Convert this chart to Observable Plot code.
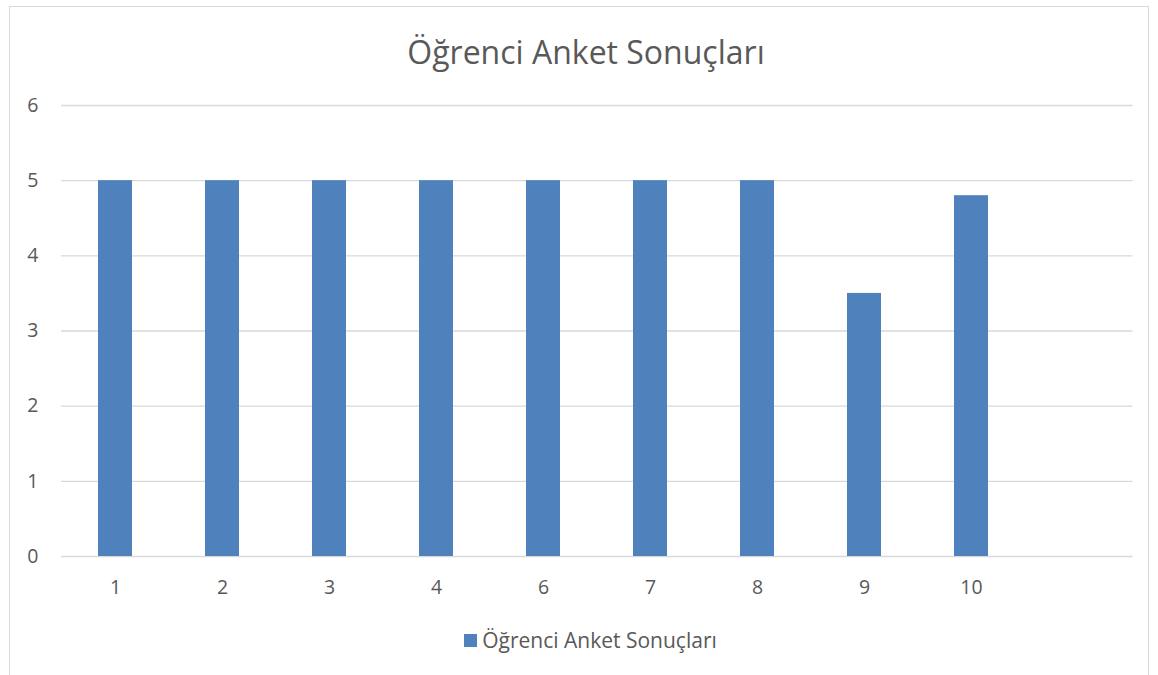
<!DOCTYPE html>
<html>
<head>
<meta charset="utf-8">
<script src="https://cdn.jsdelivr.net/npm/d3@7"></script>
<script src="https://cdn.jsdelivr.net/npm/@observablehq/plot@0.6"></script>
<style>
  html, body { margin: 0; padding: 0; background: #fff; }
  #wrap { position: relative; width: 1158px; height: 675px; overflow: hidden; font-family: "Open Sans", sans-serif; }
  #frame { position: absolute; left: 9px; top: 6px; width: 1140px; height: 690px; border: 1px solid #d9d9d9; box-sizing: border-box; }
  #title { position: absolute; left: 0; width: 1172px; top: 30px; line-height: 44px; text-align: center; font-size: 32px; color: #595959; }
  #chart { position: absolute; left: 0; top: 0; }
  #legend { position: absolute; left: 0; width: 1181px; top: 625px; height: 30px; display: flex; justify-content: center; align-items: center; font-size: 21px; color: #595959; }
  #legend .sw { width: 13px; height: 13px; background: #4f81bd; margin-right: 5px; }
</style>
</head>
<body>
<div id="wrap">
  <div id="frame"></div>
  <div id="title">Öğrenci Anket Sonuçları</div>
  <div id="chart"></div>
  <div id="legend"><span class="sw"></span><span>Öğrenci Anket Sonuçları</span></div>
</div>
<script>
const seriesName = "Öğrenci Anket Sonuçları";
const categories = ["1", "2", "3", "4", "6", "7", "8", "9", "10", ""];
const values = [5, 5, 5, 5, 5, 5, 5, 3.5, 4.8, null];
const yTicks = [0, 1, 2, 3, 4, 5, 6];

const data = categories.map((c, i) => ({ cat: c, value: values[i] }));

const chart = Plot.plot({
  width: 1158,
  height: 675,
  marginLeft: 61,
  marginRight: 25.5,
  marginTop: 105,
  marginBottom: 119,
  style: { fontFamily: "Open Sans, sans-serif", fontSize: "19.5px", color: "#595959", background: "transparent" },
  x: { domain: categories, paddingInner: 0.686, paddingOuter: 0.343, label: null },
  y: { domain: [0, 6], label: null },
  marks: [
    Plot.ruleY(yTicks, { stroke: "#d9d9d9", strokeWidth: 1.3 }),
    Plot.barY(data.filter(d => d.value != null), { x: "cat", y: "value", fill: "#4f81bd" }),
    Plot.axisX({ tickSize: 0, tickPadding: 24, fill: "#595959", fontSize: 19.5 }),
    Plot.axisY({ ticks: yTicks, tickFormat: d3.format("d"), tickSize: 0, tickPadding: 23, fill: "#595959", fontSize: 19.5 })
  ]
});
document.getElementById("chart").appendChild(chart);
</script>
</body>
</html>
